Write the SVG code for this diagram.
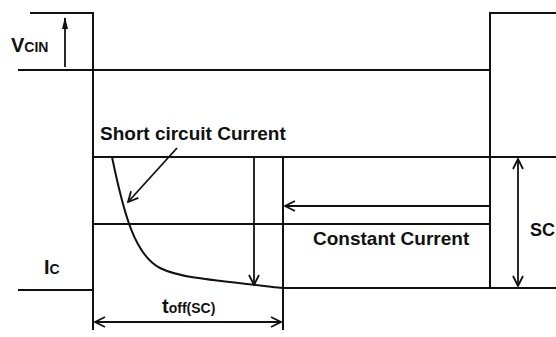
<svg xmlns="http://www.w3.org/2000/svg" width="556" height="337" viewBox="0 0 556 337">
<style>
.ln{stroke:#111;stroke-width:2;fill:none}
.ar{stroke:#111;stroke-width:1.8;fill:none}
text{font-family:"Liberation Sans",Arial,sans-serif;fill:#111;font-weight:bold}
.lb{font-size:19px}
.sb{font-size:14px}
</style>
<defs>
<marker id="open" viewBox="0 0 12 12" refX="11" refY="6" markerWidth="12" markerHeight="12" markerUnits="userSpaceOnUse" orient="auto-start-reverse">
<path d="M1,1 L11,6 L1,11" stroke="#111" stroke-width="1.8" fill="none"/>
</marker>
<marker id="fill" viewBox="0 0 8 14" refX="4" refY="1" markerWidth="8" markerHeight="14" markerUnits="userSpaceOnUse" orient="0">
<path d="M4,0 L7,12 L1,12 Z" fill="#111"/>
</marker>
</defs>
<g id="waveforms">
<path class="ln" d="M30,13 H93 V330"/>
<path class="ln" d="M18,70 H490"/>
<path class="ln" d="M490,288 V13 H556"/>
<path class="ln" d="M93,157 H556"/>
<path class="ln" d="M93,224 H490"/>
<path class="ln" d="M18,290 H93"/>
<path class="ln" d="M283,157 V330"/>
<path class="ln" d="M283,288 H556"/>
<path class="ln" d="M112,157 C124,215 135,255 160,268 C178,277 200,279 283,288"/>
</g>
<g id="connectors">
<line class="ar" x1="65" y1="67" x2="65" y2="18" marker-end="url(#fill)"/>
<line class="ar" x1="177" y1="148" x2="128" y2="202" marker-end="url(#open)"/>
<line class="ar" x1="254" y1="157" x2="254" y2="285" marker-end="url(#open)"/>
<line class="ar" x1="490" y1="206" x2="285" y2="206" marker-end="url(#open)"/>
<line class="ar" x1="518" y1="159" x2="518" y2="286" marker-start="url(#open)" marker-end="url(#open)"/>
<line class="ar" x1="95" y1="322" x2="281" y2="322" marker-start="url(#open)" marker-end="url(#open)"/>
</g>
<g id="labels">
<text x="11" y="52" font-size="20" font-weight="normal">V<tspan class="sb" font-weight="bold">CIN</tspan></text>
<text x="44" y="274" font-size="20" font-weight="normal">I<tspan class="sb" font-weight="bold">C</tspan></text>
<text x="100" y="140" class="lb">Short circuit Current</text>
<text x="313" y="245" class="lb">Constant Current</text>
<text x="530" y="236" font-size="18">SC</text>
<text x="162" y="313" font-size="20">t<tspan class="sb" font-size="15">off(SC)</tspan></text>
</g>
</svg>
